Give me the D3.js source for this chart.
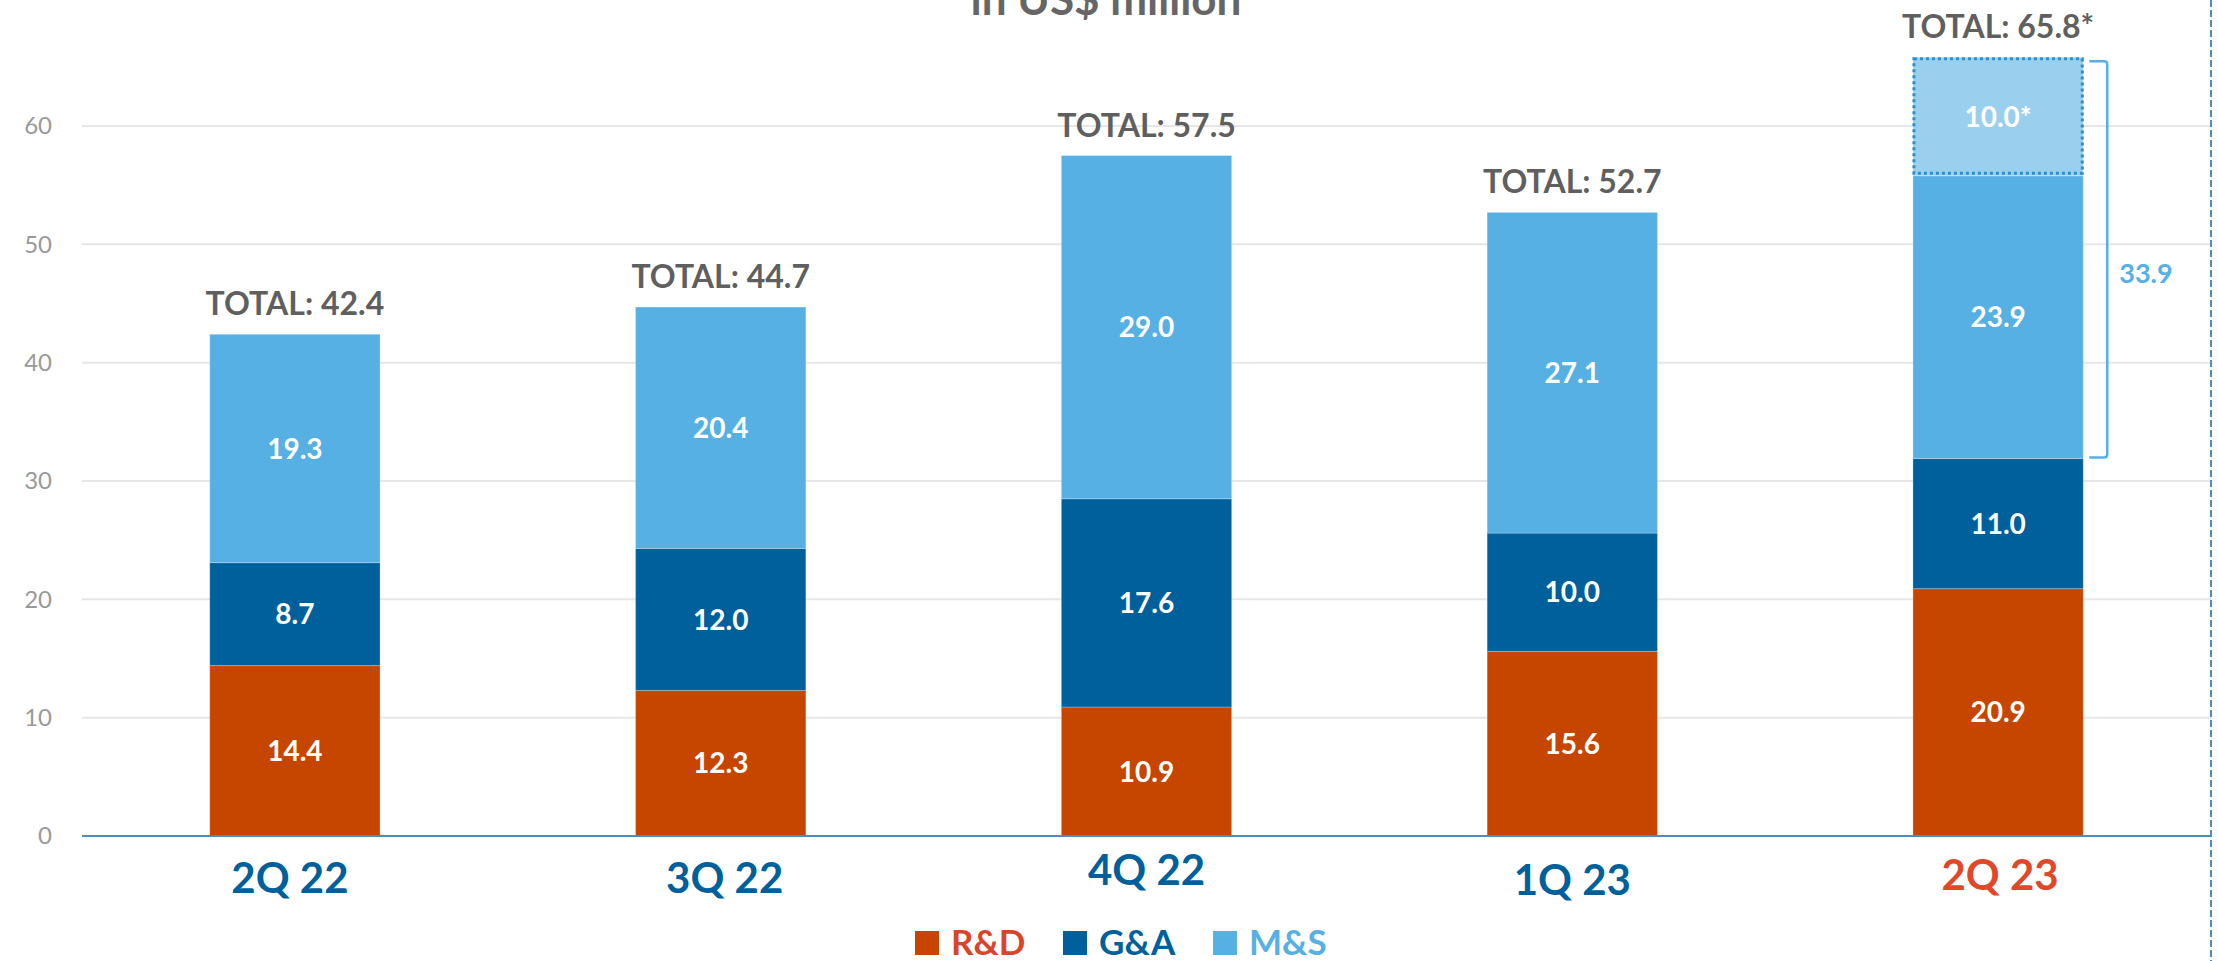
<!DOCTYPE html>
<html>
<head>
<meta charset="utf-8">
<script src="https://cdn.jsdelivr.net/npm/d3@7"></script>
<style>
  html, body { margin: 0; padding: 0; background: #fff; }
  svg { display: block; font-family: Lato, "Open Sans", sans-serif; }
</style>
</head>
<body>
<div id="chart"></div>
<script>
// Data
var quarters = ["2Q 22", "3Q 22", "4Q 22", "1Q 23", "2Q 23"];
var rdValues = [14.4, 12.3, 10.9, 15.6, 20.9];
var gaValues = [8.7, 12.0, 17.6, 10.0, 11.0];
var msValues = [19.3, 20.4, 29.0, 27.1, 23.9];
var msEstimate = [0, 0, 0, 0, 10.0];
var totalLabels = ["42.4", "44.7", "57.5", "52.7", "65.8*"];
var yTicks = [0, 10, 20, 30, 40, 50, 60];
var seriesNames = ["R&D", "G&A", "M&S"];

// Style
var colors = { rd: "#C64600", ga: "#00609C", ms: "#56B0E3", msEst: "#9ACFEE" };
var legendText = ["#D9452A", "#00609C", "#56B0E3"];
var labelColors = ["#00609C", "#00609C", "#00609C", "#00609C", "#E0482A"];
var labelBaseline = [893, 893, 885, 895, 890];
var labelShift = [-5, 4, 0, 0, 2];

var width = 2218, height = 961;

var svg = d3.select("#chart").append("svg")
    .attr("width", width)
    .attr("height", height);

var x = d3.scaleBand()
    .domain(quarters)
    .range([82, 2211])
    .paddingInner(0.6)
    .paddingOuter(0.3);

var y = d3.scaleLinear()
    .domain([0, 60])
    .range([836, 126]);

// Title (cut at top, as in the source)
svg.append("text")
    .attr("x", 1106)
    .attr("y", 15)
    .attr("text-anchor", "middle")
    .attr("font-size", 44)
    .attr("font-weight", "bold")
    .attr("fill", "#666")
    .text("in US$ million");

// Grid lines
svg.append("g")
    .selectAll("line")
    .data(yTicks.filter(function(d) { return d > 0; }))
    .enter().append("line")
    .attr("x1", 82)
    .attr("x2", 2211)
    .attr("y1", function(d) { return y(d); })
    .attr("y2", function(d) { return y(d); })
    .attr("stroke", "#e6e6e6")
    .attr("stroke-width", 2);

// Y axis labels
var yAxis = svg.append("g")
    .attr("transform", "translate(82,0)")
    .call(d3.axisLeft(y).tickValues(yTicks).tickSize(0).tickPadding(30));
yAxis.select(".domain").remove();
yAxis.selectAll("text")
    .attr("font-size", 24)
    .attr("font-family", "Lato, sans-serif")
    .attr("fill", "#999");

// Stack
var rows = quarters.map(function(q, i) {
    return { q: q, rd: rdValues[i], ga: gaValues[i], ms: msValues[i], msEst: msEstimate[i] };
});
var keys = ["rd", "ga", "ms", "msEst"];
var stacked = d3.stack().keys(keys)(rows);

var layers = svg.append("g").selectAll("g")
    .data(stacked)
    .enter().append("g")
    .attr("fill", function(d) { return colors[d.key]; });

layers.selectAll("rect")
    .data(function(d) { return d.filter(function(s) { return s[1] - s[0] > 0; }); })
    .enter().append("rect")
    .attr("x", function(d) { return x(d.data.q); })
    .attr("width", x.bandwidth())
    .attr("y", function(d) { return y(d[1]); })
    .attr("height", function(d) { return y(d[0]) - y(d[1]); })
    .attr("stroke", "rgba(255,255,255,0.25)")
    .attr("stroke-width", 1);

// Dotted border around the estimate
var est = stacked[3].filter(function(s) { return s[1] - s[0] > 0; });
svg.append("g").selectAll("rect")
    .data(est)
    .enter().append("rect")
    .attr("x", function(d) { return x(d.data.q) + 1; })
    .attr("width", x.bandwidth() - 2)
    .attr("y", function(d) { return y(d[1]) + 1.5; })
    .attr("height", function(d) { return y(d[0]) - y(d[1]) - 4; })
    .attr("fill", "none")
    .attr("stroke", "#2B8FCF")
    .attr("stroke-width", 3)
    .attr("stroke-dasharray", "3,3");

// Segment labels
stacked.forEach(function(layer) {
    svg.append("g").selectAll("text")
        .data(layer.filter(function(s) { return s[1] - s[0] > 0; }))
        .enter().append("text")
        .attr("x", function(d) { return x(d.data.q) + x.bandwidth() / 2; })
        .attr("y", function(d) { return (y(d[0]) + y(d[1])) / 2; })
        .attr("dy", "0.36em")
        .attr("text-anchor", "middle")
        .attr("font-size", 28)
        .attr("font-weight", "bold")
        .attr("fill", "#fff")
        .text(function(d) {
            var v = (d[1] - d[0]).toFixed(1);
            return layer.key === "msEst" ? v + "*" : v;
        });
});

// Total labels
svg.append("g").selectAll("text")
    .data(rows)
    .enter().append("text")
    .attr("x", function(d) { return x(d.q) + x.bandwidth() / 2; })
    .attr("y", function(d) { return y(d.rd + d.ga + d.ms + d.msEst) - 19; })
    .attr("text-anchor", "middle")
    .attr("font-size", 32)
    .attr("font-weight", "bold")
    .attr("fill", "#5f5f5f")
    .text(function(d, i) { return "TOTAL: " + totalLabels[i]; });

// Bracket for M&S incl. estimate on last bar
var last = rows[rows.length - 1];
var bx = x(last.q) + x.bandwidth() + 24;
var bTop = y(last.rd + last.ga + last.ms + last.msEst) + 4;
var bBot = y(last.rd + last.ga) - 1;
svg.append("path")
    .attr("d", "M" + (bx - 18) + "," + bTop + " L" + (bx - 3) + "," + bTop +
        " Q" + bx + "," + bTop + " " + bx + "," + (bTop + 3) +
        " L" + bx + "," + (bBot - 3) +
        " Q" + bx + "," + bBot + " " + (bx - 3) + "," + bBot +
        " L" + (bx - 18) + "," + bBot)
    .attr("fill", "none")
    .attr("stroke", colors.ms)
    .attr("stroke-width", 2.5);
svg.append("text")
    .attr("x", bx + 12)
    .attr("y", 283)
    .attr("font-size", 27)
    .attr("font-weight", "bold")
    .attr("fill", colors.ms)
    .text((last.ms + last.msEst).toFixed(1));

// X axis baseline
svg.append("line")
    .attr("x1", 82)
    .attr("x2", 2211)
    .attr("y1", y(0))
    .attr("y2", y(0))
    .attr("stroke", "#4E8DBA")
    .attr("stroke-width", 2);

// Right dashed border
svg.append("line")
    .attr("x1", 2211)
    .attr("x2", 2211)
    .attr("y1", 0)
    .attr("y2", height)
    .attr("stroke", "#4A8FC0")
    .attr("stroke-width", 2)
    .attr("stroke-dasharray", "7,3");

// Category labels
svg.append("g").selectAll("text")
    .data(quarters)
    .enter().append("text")
    .attr("x", function(d, i) { return x(d) + x.bandwidth() / 2 + labelShift[i]; })
    .attr("y", function(d, i) { return labelBaseline[i]; })
    .attr("text-anchor", "middle")
    .attr("font-size", 42)
    .attr("font-weight", "bold")
    .attr("fill", function(d, i) { return labelColors[i]; })
    .text(function(d) { return d; });

// Legend
var legendX = [915, 1063, 1213];
var legend = svg.append("g").selectAll("g")
    .data(seriesNames)
    .enter().append("g")
    .attr("transform", function(d, i) { return "translate(" + legendX[i] + ",931)"; });
legend.append("rect")
    .attr("width", 24)
    .attr("height", 24)
    .attr("fill", function(d, i) { return [colors.rd, colors.ga, colors.ms][i]; });
legend.append("text")
    .attr("x", 36)
    .attr("y", 24)
    .attr("font-size", 35)
    .attr("font-weight", "bold")
    .attr("fill", function(d, i) { return legendText[i]; })
    .text(function(d) { return d; });
</script>
</body>
</html>
